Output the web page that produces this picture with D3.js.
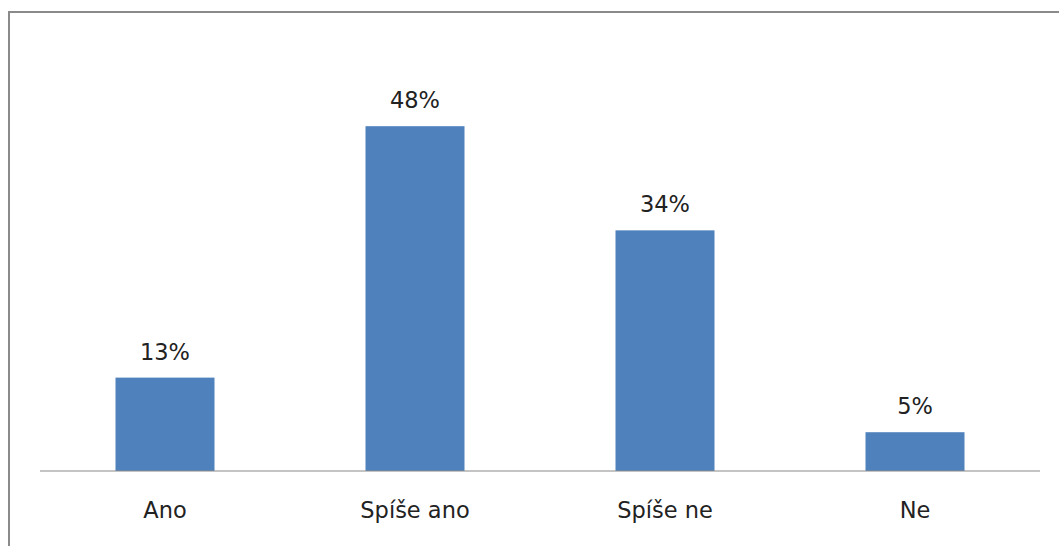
<!DOCTYPE html>
<html>
<head>
<meta charset="utf-8">
<script src="https://cdn.jsdelivr.net/npm/d3@7"></script>
<style>
  html, body { margin: 0; padding: 0; background: #fff; overflow: hidden; }
  svg { display: block; }
</style>
</head>
<body>
<svg id="chart" width="1059" height="546"></svg>
<script>
const categories = ["Ano", "Spíše ano", "Spíše ne", "Ne"];
const values = [13.0, 48.0, 33.5, 5.4];
const yDomain = [0, 60];

const svg = d3.select("#chart");
const W = 1059, H = 546;

// chart frame (top & left edges visible)
svg.append("rect")
  .attr("x", 9).attr("y", 12)
  .attr("width", W + 20).attr("height", H + 20)
  .attr("fill", "#fff")
  .attr("stroke", "#8a8a8a")
  .attr("stroke-width", 2);

const x = d3.scaleBand()
  .domain(categories)
  .range([40, 1040])
  .paddingInner(0.604)
  .paddingOuter(0.302);

const y = d3.scaleLinear()
  .domain(yDomain)
  .range([471, 40]);

const font = "'DejaVu Sans', Verdana, sans-serif";

svg.append("g").selectAll("rect")
  .data(categories)
  .join("rect")
  .attr("x", d => x(d))
  .attr("y", (d, i) => y(values[i]))
  .attr("width", x.bandwidth())
  .attr("height", (d, i) => y(0) - y(values[i]))
  .attr("fill", "#4f81bd");

// value labels
svg.append("g").selectAll("text")
  .data(categories)
  .join("text")
  .attr("x", d => x(d) + x.bandwidth() / 2)
  .attr("y", (d, i) => y(values[i]) - 18)
  .attr("text-anchor", "middle")
  .attr("font-family", font)
  .attr("font-size", "22.5px")
  .attr("fill", "#222")
  .text((d, i) => Math.round(values[i]) + "%");

// x axis
const xAxis = d3.axisBottom(x).tickSize(0).tickPadding(0);
const gx = svg.append("g")
  .attr("transform", `translate(0,${y(0)})`)
  .call(xAxis);
gx.select(".domain").attr("stroke", "#8a8a8a").attr("stroke-width", 1.2)
  .attr("d", "M40,0H1040");
gx.selectAll(".tick text")
  .attr("font-family", font)
  .attr("font-size", "22.5px")
  .attr("fill", "#222")
  .attr("dy", null)
  .attr("y", 47);
</script>
</body>
</html>
